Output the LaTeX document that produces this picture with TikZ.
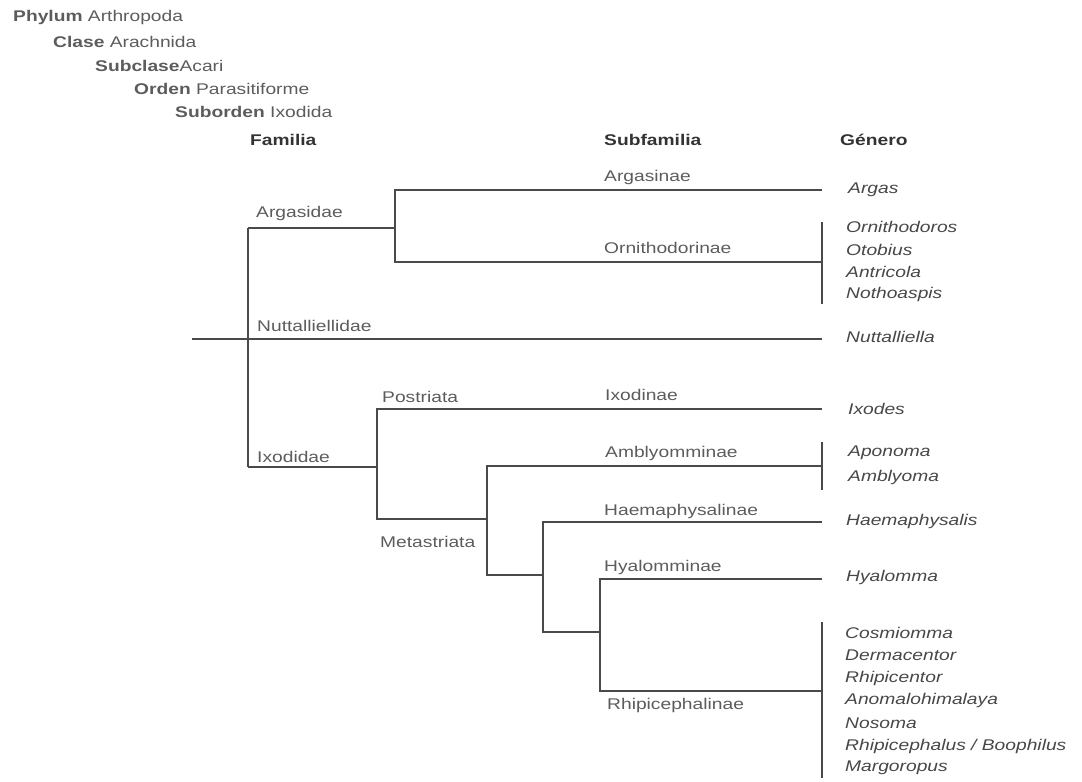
\documentclass[tikz,border=0pt]{standalone}
\usepackage{fontspec}
\setmainfont[FakeStretch=1.24]{Liberation Sans}
\usepackage{xcolor}
\usetikzlibrary{positioning}

\definecolor{treegray}{HTML}{4A4A4A}
\definecolor{labelgray}{HTML}{5C5C5C}

\begin{document}
\begin{tikzpicture}[x=1pt, y=-1pt,
    lbl/.style={anchor=west, inner sep=0pt, text=labelgray, font=\fontsize{15.5}{18}\selectfont},
    genus/.style={lbl, text=black!72, font=\fontsize{15.5}{18}\selectfont\itshape},
    head/.style={lbl, text=black!80, font=\fontsize{15.5}{18}\selectfont\bfseries},
    branch/.style={draw=treegray, line width=1.6pt},
    genbar/.style={draw=treegray, line width=1.3pt}]
    \useasboundingbox (0,0) rectangle (1082,782);

    % Taxonomy
    \node[lbl] (phylum) at (13,17) {\textbf{Phylum} Arthropoda};
    \node[lbl] (clase) at (53,42) {\textbf{Clase} Arachnida};
    \node[lbl] (subclase) at (95,66) {\textbf{Subclase}Acari};
    \node[lbl] (orden) at (134,89) {\textbf{Orden} Parasitiforme};
    \node[lbl] (suborden) at (175,112) {\textbf{Suborden} Ixodida};

    % Column heads
    \node[head] (familia) at (250,140) {Familia};
    \node[head] (subfamilia) at (604,140) {Subfamilia};
    \node[head] (genero) at (840,140) {Género};

    % Branch points
    \coordinate (root) at (192,339);
    \coordinate (famtop) at (248,228);
    \coordinate (fambot) at (248,467);
    \coordinate (argnode) at (395,228);
    \coordinate (ixonode) at (377,467);
    \coordinate (metanode) at (487,519);
    \coordinate (haemnode) at (543,575);
    \coordinate (hyanode) at (600,632);

    % Line ends
    \coordinate (argasend) at (822,190);
    \coordinate (ornend) at (822,262);
    \coordinate (nuttend) at (822,339);
    \coordinate (postend) at (822,409);
    \coordinate (amblend) at (822,466);
    \coordinate (haemend) at (822,522);
    \coordinate (hyalend) at (822,579);
    \coordinate (rhipend) at (822,691);

    % Tree
    \draw[branch] (root) -- (nuttend);
    \draw[branch] (famtop) -- (fambot);
    \draw[branch] (famtop) -- (argnode);
    \draw[branch] (argasend) -| (argnode) |- (ornend);
    \draw[branch] (fambot) -- (ixonode);
    \draw[branch] (postend) -| (ixonode) |- (metanode);
    \draw[branch] (amblend) -| (metanode) |- (haemnode);
    \draw[branch] (haemend) -| (haemnode) |- (hyanode);
    \draw[branch] (hyalend) -| (hyanode) |- (rhipend);

    % Genus bars
    \draw[genbar] (ornend) ++(0,-40) coordinate (ornbartop) -- (ornbartop |- 0,304);
    \draw[genbar] (amblend) ++(0,-24) coordinate (amblbartop) -- (amblbartop |- 0,490);
    \draw[genbar] (rhipend) ++(0,-69) coordinate (rhipbartop) -- (rhipbartop |- 0,778);

    % Family labels
    \node[lbl] (argasidae) at (256,213) {Argasidae};
    \node[lbl] (nuttalliellidae) at (257,326) {Nuttalliellidae};
    \node[lbl] (ixodidae) at (257,457) {Ixodidae};
    \node[lbl] (postriata) at (382,397) {Postriata};
    \node[lbl] (metastriata) at (380,542) {Metastriata};

    % Subfamily labels
    \node[lbl] (argasinae) at (604,177) {Argasinae};
    \node[lbl] (ornithodorinae) at (604,248) {Ornithodorinae};
    \node[lbl] (ixodinae) at (605,395) {Ixodinae};
    \node[lbl] (amblyomminae) at (605,453) {Amblyomminae};
    \node[lbl] (haemaphysalinae) at (604,511) {Haemaphysalinae};
    \node[lbl] (hyalomminae) at (604,567) {Hyalomminae};
    \node[lbl] (rhipicephalinae) at (607,705) {Rhipicephalinae};

    % Genera
    \node[genus] (argas) at (848,190) {Argas};
    \node[genus] (ornithodoros) at (846,227) {Ornithodoros};
    \node[genus] (otobius) at (846,250) {Otobius};
    \node[genus] (antricola) at (846,272) {Antricola};
    \node[genus] (nothoaspis) at (846,294) {Nothoaspis};
    \node[genus] (nuttalliella) at (846,337) {Nuttalliella};
    \node[genus] (ixodes) at (848,409) {Ixodes};
    \node[genus] (aponoma) at (848,453) {Aponoma};
    \node[genus] (amblyoma) at (848,477) {Amblyoma};
    \node[genus] (haemaphysalis) at (846,521) {Haemaphysalis};
    \node[genus] (hyalomma) at (846,577) {Hyalomma};
    \node[genus] (cosmiomma) at (845,633) {Cosmiomma};
    \node[genus] (dermacentor) at (845,655) {Dermacentor};
    \node[genus] (rhipicentor) at (845,678) {Rhipicentor};
    \node[genus] (anomalohimalaya) at (845,700) {Anomalohimalaya};
    \node[genus] (nosoma) at (845,723) {Nosoma};
    \node[genus] (rhipicephalus) at (845,746) {Rhipicephalus / Boophilus};
    \node[genus] (margoropus) at (845,768) {Margoropus};
\end{tikzpicture}
\end{document}
